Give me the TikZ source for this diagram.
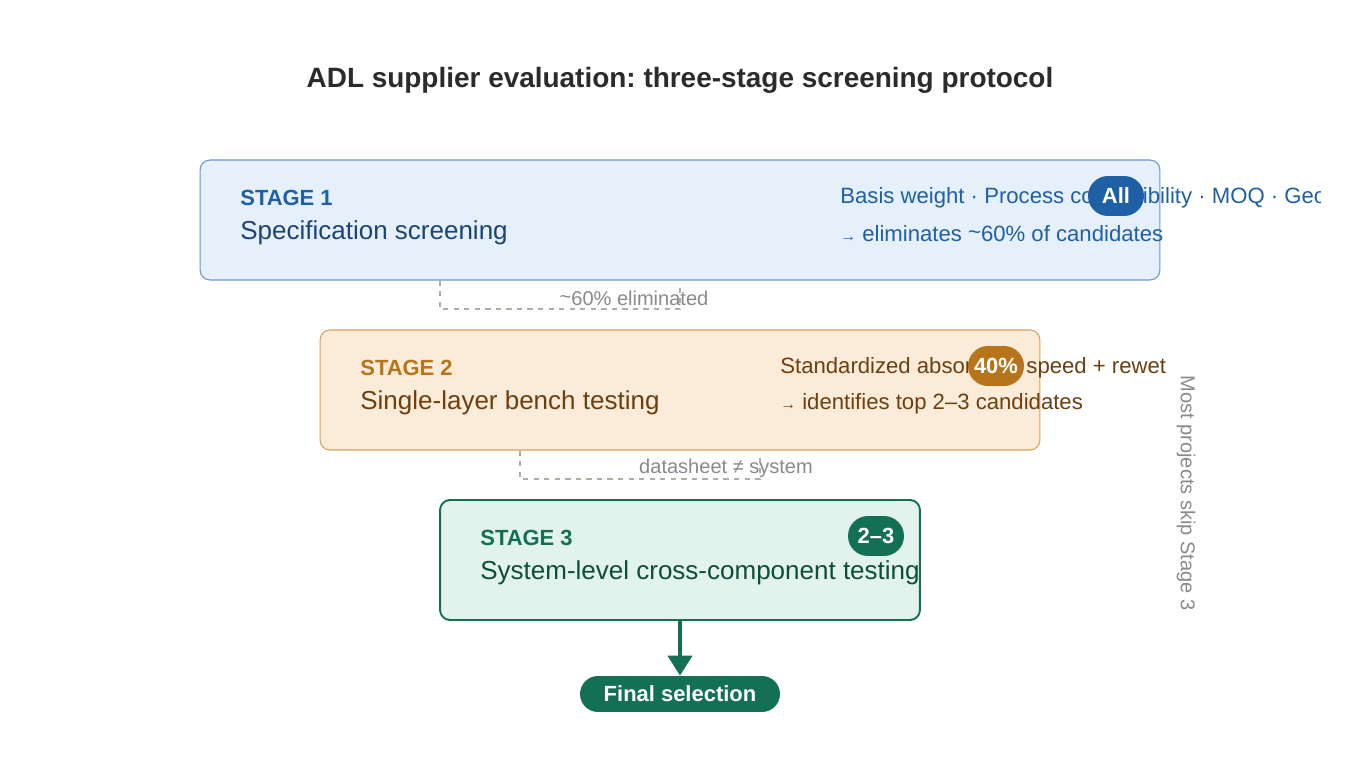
\documentclass[tikz,border=0pt]{standalone}
\usepackage{fontspec}
\setmainfont{Liberation Sans}
\frenchspacing
\usetikzlibrary{arrows.meta}
\definecolor{blueFill}{HTML}{E6F0FA}
\definecolor{blueLine}{HTML}{6A96C8}
\definecolor{blueText}{HTML}{1F5FA6}
\definecolor{blueDark}{HTML}{1B4478}
\definecolor{orangeFill}{HTML}{FAECD9}
\definecolor{orangeLine}{HTML}{D9A05A}
\definecolor{orangeText}{HTML}{B8741A}
\definecolor{orangeDark}{HTML}{6E3F0E}
\definecolor{greenFill}{HTML}{E1F3EC}
\definecolor{greenLine}{HTML}{137055}
\definecolor{greenDark}{HTML}{0E4D3C}
\definecolor{grayLine}{HTML}{B2ACA4}
\definecolor{grayText}{HTML}{8A8A8A}
\definecolor{titleText}{HTML}{2B2B2B}
\tikzset{
  stagebox/.style={rounded corners=0.2cm, minimum width=19.2cm, minimum height=2.4cm, inner sep=0pt},
  stagelabel/.style={anchor=west, inner sep=0pt, font=\fontsize{12.5}{15}\selectfont\bfseries},
  stagename/.style={anchor=west, inner sep=0pt, font=\fontsize{14.8}{18}\selectfont},
  stagenote/.style={anchor=west, inner sep=0pt, font=\fontsize{12.6}{15}\selectfont},
  badge/.style={rounded corners=0.4cm, minimum width=1.12cm, minimum height=0.8cm, inner sep=0pt, text=white, font=\fontsize{12.5}{15}\selectfont\bfseries},
  flowline/.style={grayLine, line width=1pt, dashed},
  flowlabel/.style={grayText, inner sep=0pt, font=\fontsize{11.4}{14}\selectfont}
}
\begin{document}
\begin{tikzpicture}[x=0.02cm,y=-0.02cm]
\useasboundingbox[fill=white] (0,0) rectangle (1360,770);
\node[titleText, font=\fontsize{15.9}{19}\selectfont\bfseries] (title) at (680,80) {ADL supplier evaluation: three-stage screening protocol};

\node[stagebox, fill=blueFill, draw=blueLine, line width=0.6pt] (stage1) at (680,220) {};
\node[stagebox, minimum width=14.4cm, fill=orangeFill, draw=orangeLine, line width=0.6pt] (stage2) at (680,390) {};
\node[stagebox, minimum width=9.6cm, fill=greenFill, draw=greenLine, line width=1.1pt] (stage3) at (680,560) {};

\node[stagelabel, blueText] (label1) at (240,198) {STAGE 1};
\node[stagename, blueDark] (name1) at (240,233) {Specification screening};
\begin{scope}
\clip (0,0) rectangle (1320,770);
\node[stagenote, blueText] (note1a) at (840,198) {Basis weight · Process compatibility · MOQ · Geography};
\end{scope}
\node[stagenote, blueText] (note1b) at (840,234) {{\fontsize{9}{10}\selectfont→} eliminates \raisebox{0.2ex}{\char"007E}60\% of candidates};
\node[badge, fill=blueText] (badge1) at (1116,196) {All};

\node[stagelabel, orangeText] (label2) at (360,368) {STAGE 2};
\node[stagename, orangeDark] (name2) at (360,403) {Single-layer bench testing};
\node[stagenote, orangeDark] (note2a) at (780,368) {Standardized absorption speed + rewet};
\node[stagenote, orangeDark] (note2b) at (780,404) {{\fontsize{9}{10}\selectfont→} identifies top 2–3 candidates};
\node[badge, fill=orangeText] (badge2) at (996,366) {40\%};

\node[stagelabel, greenLine] (label3) at (480,538) {STAGE 3};
\node[stagename, greenDark] (name3) at (480,573) {System-level cross-component testing};
\node[badge, fill=greenLine] (badge3) at (876,536) {2–3};

\node[rounded corners=0.36cm, minimum width=4cm, minimum height=0.72cm, inner sep=0pt, fill=greenLine, text=white, font=\fontsize{12.5}{15}\selectfont\bfseries] (final) at (680,694) {Final selection};
\draw[draw=greenLine, fill=greenLine, line width=2.2pt, -{Triangle[width=0.48cm,length=0.4cm]}] (stage3.south) -- (final.north);

\coordinate (drop1) at (440,309);
\coordinate (end1) at (680,286);
\draw[flowline] (stage1.south -| drop1) -- (drop1) -- (drop1 -| end1) -- (end1);
\node[flowlabel] (cut1) at (634,298) {\raisebox{0.2ex}{\char"007E}60\% eliminated};

\coordinate (drop2) at (520,479);
\coordinate (end2) at (760,456);
\draw[flowline] (stage2.south -| drop2) -- (drop2) -- (drop2 -| end2) -- (end2);
\node[flowlabel] (cut2) at (726,468) {datasheet ≠ system};

\node[flowlabel, rotate=-90] (skip) at (1186,493) {Most projects skip Stage 3};
\end{tikzpicture}
\end{document}
